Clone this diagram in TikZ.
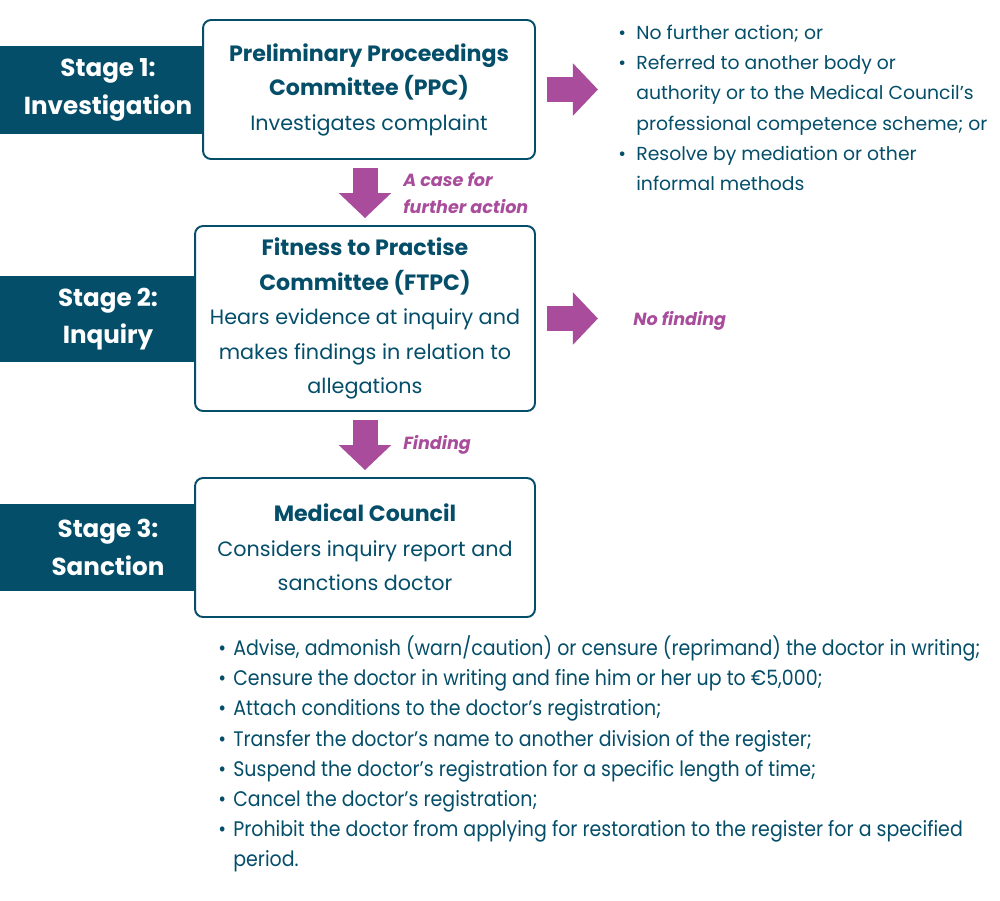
\documentclass[tikz,border=0pt]{standalone}
\usepackage{fontspec}
\setmainfont{Poppins}
\newfontfamily\narrowfont[FakeStretch=0.9]{Poppins}
\usetikzlibrary{arrows.meta,positioning}
\definecolor{stageblue}{RGB}{4,78,106}
\definecolor{flowpurple}{RGB}{168,76,155}
\tikzset{
 stagebar/.style={fill=stageblue,text=white,minimum width=4.32cm,inner sep=0pt,
  align=center,font=\bfseries\fontsize{14}{21.5}\selectfont},
 committee/.style={draw=stageblue,line width=1.1pt,rounded corners=0.16cm,fill=white,
  text=stageblue,align=center,inner sep=0pt,font=\fontsize{11.8}{19.6}\selectfont},
 bigarrow/.style={draw=flowpurple,line width=0.5cm,-{Triangle[length=0.5cm,width=1.02cm]}},
 outcome/.style={text=flowpurple,align=left,inner sep=0pt,
  font=\bfseries\itshape\fontsize{10}{15.3}\selectfont},
 bulletlist/.style={text=stageblue,align=left,inner sep=0pt,anchor=west}
}
\newcommand{\head}[1]{{\bfseries\fontsize{12.6}{19.6}\selectfont #1}}
\newcommand{\itm}{\makebox[0.36cm][l]{\textbullet}}
\newcommand{\hang}{\hspace*{0.36cm}}
\newcommand{\sitm}{\makebox[0.3cm][l]{\textbullet}}
\begin{document}
\begin{tikzpicture}[x=0.02cm,y=-0.02cm]
 \useasboundingbox (0,0) rectangle (1000,900);
 % stage banners behind the boxes
 \node[stagebar,minimum height=1.76cm] (stage1) at (108,90) {Stage 1:\\Investigation};
 \node[stagebar,minimum height=1.72cm] (stage2) at (108,319) {Stage 2:\\Inquiry};
 \node[stagebar,minimum height=1.74cm] (stage3) at (108,547.5) {Stage 3:\\Sanction};
 % committees
 \node[committee,minimum width=6.64cm,minimum height=2.78cm] (ppc) at (369,89.5)
  {\head{Preliminary Proceedings}\\\head{Committee (PPC)}\\Investigates complaint};
 \node[committee,minimum width=6.8cm,minimum height=3.7cm] (ftpc) at (365,318.5)
  {\head{Fitness to Practise}\\\head{Committee (FTPC)}\\Hears evidence at inquiry and\\makes findings in relation to\\allegations};
 \node[committee,minimum width=6.8cm,minimum height=2.78cm] (council) at (365,547.5)
  {\head{Medical Council}\\Considers inquiry report and\\sanctions doctor};
 % arrows
 \coordinate (noaction) at ([xshift=1.24cm]ppc.east);
 \coordinate (nofind) at ([xshift=1.24cm]ftpc.east);
 \draw[bigarrow,shorten <=0.22cm] (ppc.east) -- (noaction);
 \draw[bigarrow,shorten <=0.22cm] (ftpc.east) -- (nofind);
 \draw[bigarrow,shorten <=0.16cm,shorten >=0.14cm] (ftpc.north |- ppc.south) -- (ftpc.north);
 \draw[bigarrow,shorten <=0.16cm,shorten >=0.14cm] (ftpc.south) -- (council.north);
 % outcomes
 \node[outcome,anchor=west] (further) at (403,193.5) {A case for\\further action};
 \node[outcome,anchor=west] (nofindlbl) at (633,321) {No finding};
 \node[outcome,anchor=west] (findlbl) at (403,445) {Finding};
 \node[bulletlist,font=\fontsize{10.7}{17.2}\selectfont] (ppclist) at (618,108)
  {\itm No further action; or\\
   \itm Referred to another body or\\
   \hang authority or to the Medical Council’s\\
   \hang professional competence scheme; or\\
   \itm Resolve by mediation or other\\
   \hang informal methods};
 \node[bulletlist,font=\narrowfont\fontsize{12}{17.2}\selectfont] (sanctions) at (218,754)
  {\sitm Advise, admonish (warn/caution) or censure (reprimand) the doctor in writing;\\
   \sitm Censure the doctor in writing and fine him or her up to €5,000;\\
   \sitm Attach conditions to the doctor’s registration;\\
   \sitm Transfer the doctor’s name to another division of the register;\\
   \sitm Suspend the doctor’s registration for a specific length of time;\\
   \sitm Cancel the doctor’s registration;\\
   \sitm Prohibit the doctor from applying for restoration to the register for a specified\\
   \hspace*{0.3cm}period.};
\end{tikzpicture}
\end{document}
